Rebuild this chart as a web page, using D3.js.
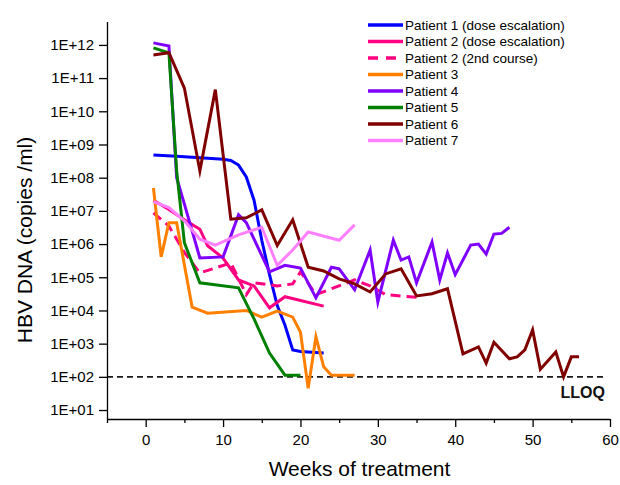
<!DOCTYPE html>
<html>
<head>
<meta charset="utf-8">
<script src="https://cdn.jsdelivr.net/npm/d3@7/dist/d3.min.js"></script>
<style>
  html, body { margin: 0; padding: 0; background: #fff; }
  svg { display: block; font-family: "Liberation Sans", Arial, sans-serif; }
</style>
</head>
<body>
<svg id="chart" width="620" height="485"></svg>
<script>
// ---- Data (weeks of treatment, HBV DNA copies/ml) ----
const p1Weeks = [1, 4, 7, 10, 11, 12, 13, 14, 15, 16, 17, 18, 19, 20, 23];
const p1Vals  = [4.8e8, 4.4e8, 4.0e8, 3.6e8, 3.3e8, 2.4e8, 1.05e8, 2.1e7, 1.3e6, 1.2e5, 1.4e4, 3.6e3, 650, 580, 520];

const p2Weeks = [1, 3, 5, 7, 8, 10, 12, 14, 16, 18, 23];
const p2Vals  = [2.1e7, 1.1e7, 5.4e6, 2.8e6, 8.9e5, 3.8e5, 8.3e4, 5.5e4, 1.2e4, 2.6e4, 1.35e4];

const p2bWeeks = [1, 3, 5, 7, 11, 13, 14, 17, 19, 20, 22, 27, 29, 31, 35];
const p2bVals  = [8.7e6, 3.5e6, 5.6e5, 1.35e5, 2.7e5, 3.0e4, 6.8e4, 5.5e4, 6.3e4, 1.45e5, 3.0e4, 8.3e4, 5.5e4, 3.0e4, 2.5e4];

const p3Weeks = [1, 2, 3, 4, 6, 8, 13, 15, 17, 19, 20, 21, 22, 23, 24, 27];
const p3Vals  = [4.9e7, 4.1e5, 4.4e6, 4.4e6, 1.26e4, 8.3e3, 1.0e4, 6.3e3, 9.5e3, 6.3e3, 2.2e3, 45, 1.6e3, 200, 112, 112];

const p4Weeks = [1, 3, 4, 5, 6, 7, 10, 12, 13, 16, 18, 20, 22, 24, 25, 27, 29, 30, 32, 33, 34, 35, 37, 38, 39, 40, 42, 43, 44, 45, 46, 47];
const p4Vals  = [1.15e12, 9.3e11, 1.0e8, 1.6e7, 2.5e6, 3.8e5, 4.1e5, 7.6e6, 4.4e6, 1.45e5, 2.3e5, 1.9e5, 2.4e4, 2.0e5, 1.8e5, 4.2e4, 6.6e5, 1.8e4, 1.3e6, 3.3e5, 4.1e5, 6.8e4, 1.15e6, 8.3e4, 5.4e5, 1.2e5, 9.3e5, 1.0e6, 5.0e5, 2.0e6, 2.1e6, 3.2e6];

const p5Weeks = [1, 3, 4, 5, 7, 12, 14, 16, 18, 20];
const p5Vals  = [8.1e11, 5.8e11, 1.6e8, 1.1e6, 6.8e4, 4.8e4, 5.6e3, 520, 112, 112];

const p6Weeks = [1, 3, 5, 7, 9, 11, 13, 15, 17, 19, 21, 23, 25, 27, 29, 31, 33, 35, 37, 39, 41, 43, 44, 45, 47, 48, 49, 50, 51, 53, 54, 55, 56];
const p6Vals  = [5.0e11, 5.8e11, 5.0e10, 1.6e8, 4.5e10, 5.6e6, 6.2e6, 1.07e7, 9.0e5, 5.4e6, 2.0e5, 1.55e5, 8.9e4, 6.3e4, 3.6e4, 1.26e5, 1.8e5, 2.75e4, 3.2e4, 4.5e4, 490, 800, 260, 1.1e3, 350, 400, 650, 2.6e3, 170, 560, 100, 400, 400];

const p7Weeks = [1, 3, 5, 7, 9, 12, 15, 17, 19, 21, 25, 27];
const p7Vals  = [1.9e7, 1.26e7, 5.0e6, 1.4e6, 9.3e5, 1.9e6, 3.2e6, 2.3e5, 6.6e5, 2.3e6, 1.3e6, 3.8e6];

const seriesNames = ["Patient 1 (dose escalation)", "Patient 2 (dose escalation)", "Patient 2 (2nd course)",
                     "Patient 3", "Patient 4", "Patient 5", "Patient 6", "Patient 7"];
const seriesColors = ["#0000ff", "#ff0080", "#ff0080", "#ff8000", "#8000ff", "#008000", "#800000", "#ff80ff"];
const seriesDashed = [false, false, true, false, false, false, false, false];

const xTicks = [0, 10, 20, 30, 40, 50, 60];
const xMinorTicks = [-5, 5, 15, 25, 35, 45, 55];
const yTicks = [1e1, 1e2, 1e3, 1e4, 1e5, 1e6, 1e7, 1e8, 1e9, 1e10, 1e11, 1e12];
const lloq = 100;

const xTitle = "Weeks of treatment";
const yTitle = "HBV DNA (copies /ml)";

// ---- Build ----
const allWeeks = [p1Weeks, p2Weeks, p2bWeeks, p3Weeks, p4Weeks, p5Weeks, p6Weeks, p7Weeks];
const allVals = [p1Vals, p2Vals, p2bVals, p3Vals, p4Vals, p5Vals, p6Vals, p7Vals];
const series = seriesNames.map((name, i) => ({
  name, color: seriesColors[i], dashed: seriesDashed[i],
  points: allWeeks[i].map((w, j) => ({ w, v: allVals[i][j] }))
}));

const svg = d3.select("#chart");
const mLeft = 107, mRight = 610, mTop = 22, mBottom = 419;

const x = d3.scaleLinear().domain([-5, 60]).range([mLeft, mRight]);
const y = d3.scaleLog().domain([Math.pow(10, 0.73), Math.pow(10, 12.69)]).range([mBottom, mTop]);

// LLOQ line
svg.append("line")
  .attr("x1", mLeft).attr("x2", 605)
  .attr("y1", y(lloq)).attr("y2", y(lloq))
  .attr("stroke", "#1a1a1a").attr("stroke-width", 1.6)
  .attr("stroke-dasharray", "6,4");

svg.append("text")
  .attr("x", 605).attr("y", 398)
  .attr("text-anchor", "end")
  .attr("font-size", 16).attr("font-weight", "bold")
  .attr("fill", "#111")
  .text("LLOQ");

// Lines
const line = d3.line().x(d => x(d.w)).y(d => y(d.v));
series.forEach(s => {
  svg.append("path")
    .datum(s.points)
    .attr("d", line)
    .attr("fill", "none")
    .attr("stroke", s.color)
    .attr("stroke-width", 3)
    .attr("stroke-linejoin", "miter")
    .attr("stroke-miterlimit", 6)
    .attr("stroke-dasharray", s.dashed ? "10,6" : null);
});

// Axes
const xAxis = d3.axisBottom(x).tickValues(xTicks).tickSize(8).tickPadding(7).tickFormat(d3.format("d"));
const gx = svg.append("g").attr("transform", `translate(0,${mBottom})`).call(xAxis);
gx.select(".domain").attr("d", `M${mLeft},0.5H${mRight}`).attr("stroke-width", 1.3);
gx.selectAll(".tick line").attr("stroke-width", 1.3);
gx.selectAll(".tick text").attr("font-size", 15).attr("font-family", "'Liberation Sans', Arial, sans-serif").attr("fill", "#000");

const xMinor = d3.axisBottom(x).tickValues(xMinorTicks).tickSize(4).tickFormat("");
const gxm = svg.append("g").attr("transform", `translate(0,${mBottom})`).call(xMinor);
gxm.select(".domain").remove();
gxm.selectAll(".tick line").attr("stroke-width", 1.3);

const yAxis = d3.axisLeft(y).tickValues(yTicks).tickSize(8).tickPadding(5)
  .tickFormat(d => "1E+" + String(Math.round(Math.log10(d))).padStart(2, "0"));
const gy = svg.append("g").attr("transform", `translate(${mLeft},0)`).call(yAxis);
gy.select(".domain").attr("d", `M0.5,${mTop}V${mBottom}`).attr("stroke-width", 1.3);
gy.selectAll(".tick line").attr("stroke-width", 1.3);
gy.selectAll(".tick text").attr("font-size", 15).attr("font-family", "'Liberation Sans', Arial, sans-serif").attr("fill", "#000");

// Titles
svg.append("text")
  .attr("x", (mLeft + mRight) / 2 + 1).attr("y", 476)
  .attr("text-anchor", "middle").attr("font-size", 21).attr("fill", "#000")
  .text(xTitle);

svg.append("text")
  .attr("transform", `translate(32,240) rotate(-90)`)
  .attr("text-anchor", "middle").attr("font-size", 21).attr("fill", "#000")
  .text(yTitle);

// Legend
const legend = svg.append("g");
series.forEach((s, i) => {
  const ly = 25 + i * 16.5;
  legend.append("line")
    .attr("x1", 368).attr("x2", 403).attr("y1", ly).attr("y2", ly)
    .attr("stroke", s.color).attr("stroke-width", 3.5)
    .attr("stroke-dasharray", s.dashed ? "10,8" : null);
  legend.append("text")
    .attr("x", 405).attr("y", ly + 4.8)
    .attr("font-size", 13.5).attr("fill", "#000")
    .text(s.name);
});
</script>
</body>
</html>
